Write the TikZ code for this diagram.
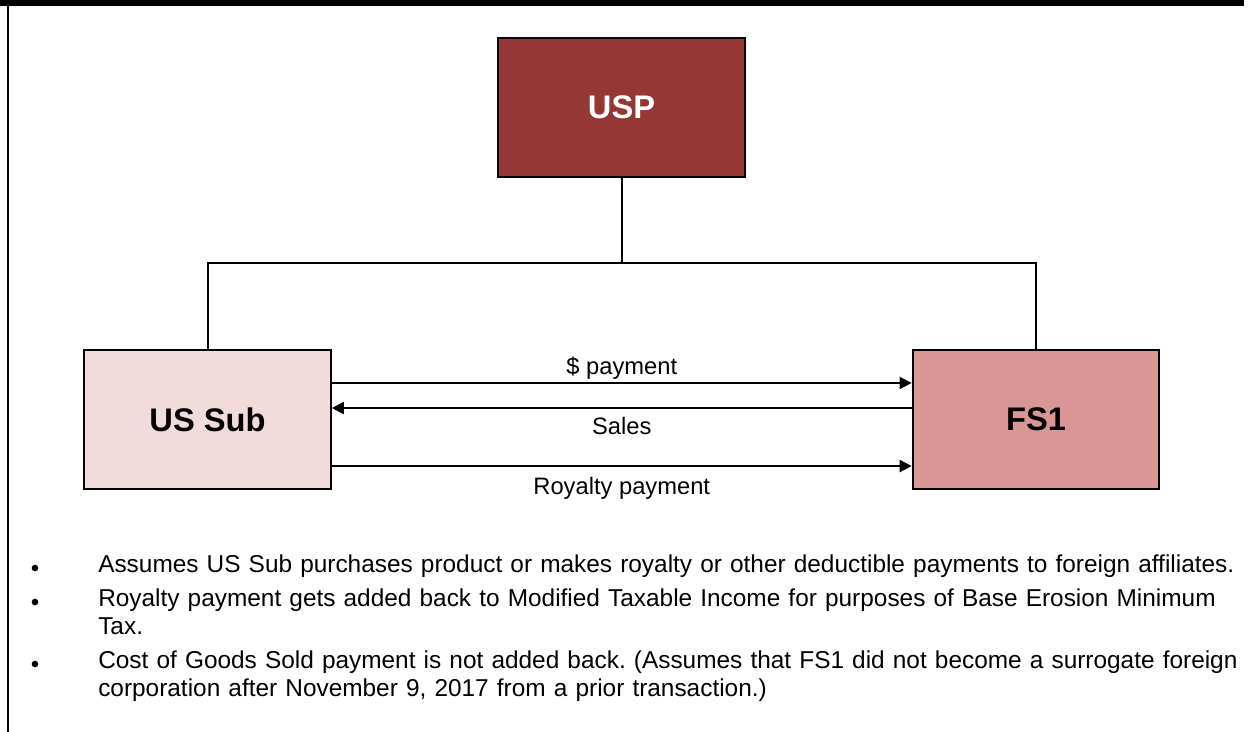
\documentclass[tikz,border=0pt]{standalone}
\usepackage{fontspec}
\setmainfont{Liberation Sans}
\usetikzlibrary{arrows.meta}
\frenchspacing

\definecolor{uspred}{HTML}{953735}
\definecolor{subpink}{HTML}{F2DCDB}
\definecolor{fsrose}{HTML}{D99694}

\tikzset{
  entity/.style={draw=black, line width=1.5pt, minimum width=185pt, minimum height=104pt,
    inner sep=0pt, font=\fontsize{24.5}{28}\selectfont\bfseries},
  tie/.style={line width=1.5pt},
  flow/.style={line width=1.5pt, -{Triangle[length=9pt,width=9pt]}},
  lbl/.style={font=\fontsize{17.8}{20}\selectfont, inner sep=2pt},
  note/.style={anchor=base west, text width=880pt, align=left, inner sep=0pt,
    font=\fontsize{18.3}{21}\selectfont},
  bullet/.style={fill=black, circle, minimum size=5pt, inner sep=0pt}
}

\begin{document}
\begin{tikzpicture}[x=0.75pt, y=-0.75pt]
        \useasboundingbox (0,0) rectangle (1250,732);
        % frame
        \fill[black] (0,0) rectangle (1244,6);
        \draw[line width=1.5pt] (8,0) -- (8,732);

        % entities
        \node[entity, fill=uspred, text=white] (usp) at (621.5,107.5) {USP};
        \node[entity, fill=subpink] (ussub) at (207.5,419.5) {US Sub};
        \node[entity, fill=fsrose] (fs1) at (1036,419.5) {FS1};

        % ownership
        \coordinate (bus) at (621.5,263);
        \draw[tie] (usp.south) -- (bus) -| (ussub.north);
        \draw[tie] (bus) -| (fs1.north);

        % payments
        \draw[flow] ([yshift=27.4pt]ussub.east) -- node[lbl, above=0pt] (paylbl) {\$ payment} ([yshift=27.4pt]fs1.west);
        \draw[flow] ([yshift=8.6pt]fs1.west) -- node[lbl, below=4.5pt] (saleslbl) {Sales} ([yshift=8.6pt]ussub.east);
        \draw[flow] ([yshift=-34.9pt]ussub.east) -- node[lbl, below=5.5pt] (roylbl) {Royalty payment} ([yshift=-34.9pt]fs1.west);

        % notes
        \node[bullet] (b1) at (35,568) {};
        \node[note] (n1) at (98,572) {Assumes US Sub purchases product or makes royalty or other deductible payments to foreign affiliates.};
        \node[bullet] (b2) at (35,602) {};
        \node[note] (n2) at (98,606) {Royalty payment gets added back to Modified Taxable Income for purposes of Base Erosion Minimum\\Tax.};
        \node[bullet] (b3) at (35,664) {};
        \node[note] (n3) at (98,668) {Cost of Goods Sold payment is not added back. (Assumes that FS1 did not become a surrogate foreign\\corporation after November 9, 2017 from a prior transaction.)};
\end{tikzpicture}
\end{document}
